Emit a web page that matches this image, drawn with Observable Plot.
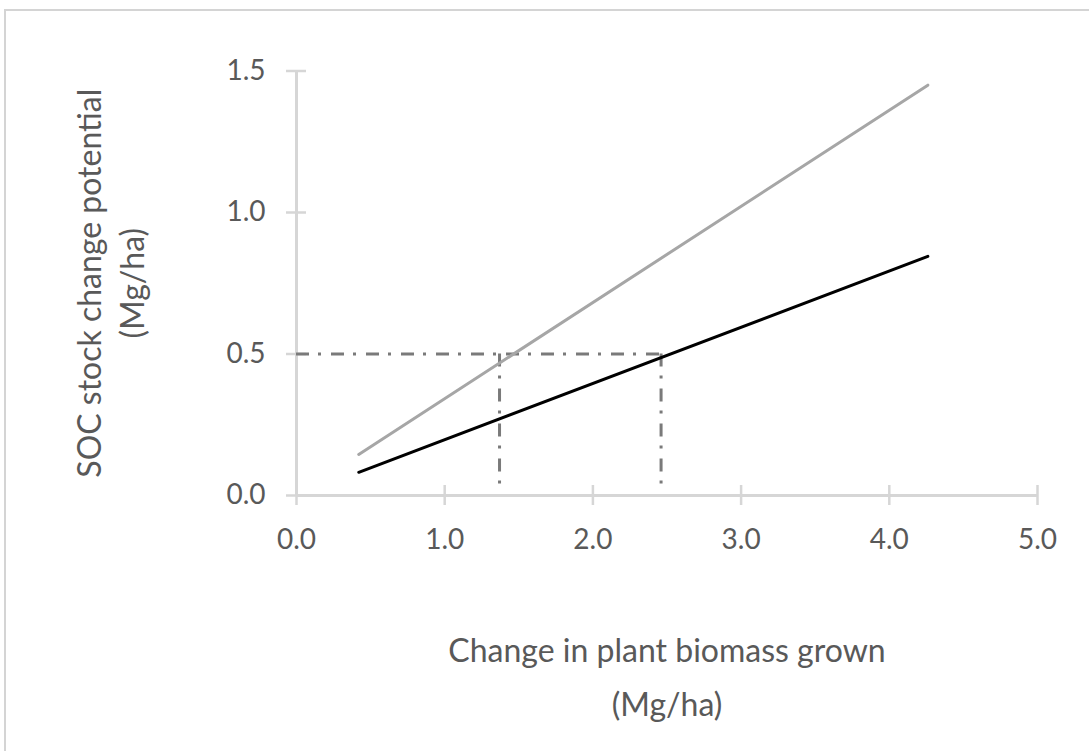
<!DOCTYPE html>
<html>
<head>
<meta charset="utf-8">
<script src="https://cdn.jsdelivr.net/npm/d3@7"></script>
<script src="https://cdn.jsdelivr.net/npm/@observablehq/plot@0.6"></script>
<style>
  html, body { margin: 0; padding: 0; background: #fff; overflow: hidden; }
  #wrap { position: relative; width: 1089px; height: 751px; }
  #frame { position: absolute; left: 4px; top: 9px; width: 1200px; height: 900px;
           border-top: 2px solid #d4d4d4; border-left: 2px solid #d4d4d4; box-sizing: border-box; }
  #chart { position: absolute; left: 0; top: 0; }
</style>
</head>
<body>
<div id="wrap"><div id="frame"></div><div id="chart"></div></div>
<script>
// ---- data ----
const xTicks = [0, 1, 2, 3, 4, 5];
const yTicks = [0, 0.5, 1.0, 1.5];
const biomass = [0.42, 4.26];          // x values (Mg/ha)
const socGray = [0.145, 1.45];         // gray line
const socBlack = [0.082, 0.845];       // black line
const refY = [0.5];                    // horizontal reference level
const refYEndX = 2.48;                 // horizontal reference reaches this x
const refX = [1.37, 2.46];             // vertical reference positions
const refXBottom = 0.02;               // vertical references reach down to
const xTitle = "Change in plant biomass grown\n(Mg/ha)";
const yTitle = "SOC stock change potential\n(Mg/ha)";

const grayData = biomass.map((x, i) => ({x, y: socGray[i]}));
const blackData = biomass.map((x, i) => ({x, y: socBlack[i]}));

const axisColor = "#d6d6d6";
const textColor = "#595959";
const fmt = d3.format(".1f");
const font = "Lato, 'Open Sans', sans-serif";

const chart = Plot.plot({
  width: 1089,
  height: 751,
  marginLeft: 296,
  marginRight: 52,
  marginTop: 70.5,
  marginBottom: 256,
  style: {fontFamily: font, fontSize: "28px", background: "transparent"},
  x: {domain: [0, 5]},
  y: {domain: [0, 1.5]},
  marks: [
    // axis lines
    Plot.ruleY([0], {x1: 0, x2: 5, stroke: axisColor, strokeWidth: 3}),
    Plot.ruleX([0], {y1: 0, y2: 1.5, stroke: axisColor, strokeWidth: 3}),
    // cross ticks
    Plot.axisX(xTicks, {tickSize: 20, dy: -10, fill: "none", stroke: axisColor, strokeWidth: 2.5, label: null}),
    Plot.axisY(yTicks, {tickSize: 20, dx: 10, fill: "none", stroke: axisColor, strokeWidth: 2.5, label: null}),
    // tick labels
    Plot.axisX(xTicks, {tickSize: 0, tickPadding: 34, tickFormat: fmt, fill: textColor, fontSize: 28, label: null}),
    Plot.axisY(yTicks, {tickSize: 0, tickPadding: 31, tickFormat: fmt, fill: textColor, fontSize: 28, label: null}),
    // reference dash-dot lines
    Plot.ruleY(refY, {x1: 0, x2: refYEndX, stroke: "#7a7a7a", strokeWidth: 3, strokeDasharray: "13,9,3,10"}),
    Plot.ruleX(refX, {y1: refY[0], y2: refXBottom, stroke: "#7a7a7a", strokeWidth: 3, strokeDasharray: "13,9,3,10"}),
    // data lines
    Plot.line(grayData, {x: "x", y: "y", stroke: "#a6a6a6", strokeWidth: 3}),
    Plot.line(blackData, {x: "x", y: "y", stroke: "#000000", strokeWidth: 3}),
    // axis titles
    Plot.text([xTitle], {text: d => d, frameAnchor: "bottom", dy: 176, textAnchor: "middle", fill: textColor, fontSize: 32, lineHeight: 1.68, lineAnchor: "middle"}),
    Plot.text([yTitle], {text: d => d, frameAnchor: "left", dx: -188, rotate: -90, textAnchor: "middle", fill: textColor, fontSize: 32, lineHeight: 1.34, lineAnchor: "middle"})
  ]
});
document.getElementById("chart").appendChild(chart);
</script>
</body>
</html>
